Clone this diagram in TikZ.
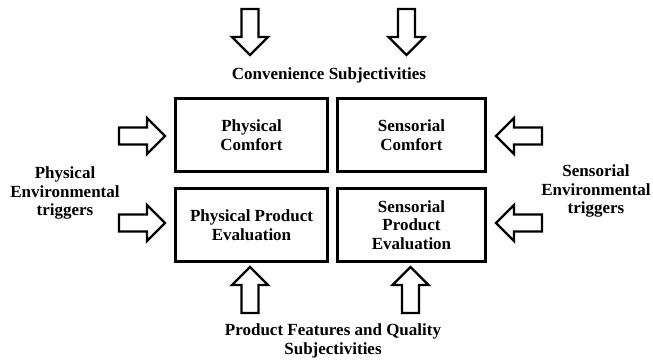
\documentclass[tikz,border=0pt]{standalone}
\usepackage{fontspec}
\setmainfont{Liberation Serif}
\begin{document}
\begin{tikzpicture}[x=1pt,y=-1pt,
  lbl/.style={align=center,font=\bfseries\fontsize{17}{18.5}\selectfont},
  box/.style={lbl,draw,line width=2.8pt,minimum width=152pt,minimum height=73pt,inner sep=0pt},
  fat/.pic={\draw[line width=2.3pt,fill=white,line join=miter](0,-8.5)--(28,-8.5)--(28,-18)--(46,0)--(28,18)--(28,8.5)--(0,8.5)--cycle;}]
\useasboundingbox(0,0)rectangle(653,362);
\node[box](pc)at(251.5,135){Physical\\Comfort};
\node[box,minimum width=148pt](sc)at(411.5,135){Sensorial\\Comfort};
\node[box](ppe)at(251.5,225){Physical Product\\Evaluation};
\node[box,minimum width=148pt](spe)at(411.5,225){Sensorial\\Product\\Evaluation};

\node[lbl](conv)at(329,75){Convenience Subjectivities};
\node[lbl](prod)at(333,341){Product Features and Quality\\Subjectivities};
\node[lbl](phys)at(65,193){Physical\\Environmental\\triggers};
\node[lbl](sens)at(596,191){Sensorial\\Environmental\\triggers};

\pic[rotate=-90]at(250,9){fat};
\pic[rotate=-90]at(406.5,9){fat};
\pic[rotate=90]at(250,313){fat};
\pic[rotate=90]at(410.5,313){fat};
\pic at(119,136){fat};
\pic at(119,223){fat};
\pic[rotate=180]at(542,136){fat};
\pic[rotate=180]at(542,223){fat};
\end{tikzpicture}
\end{document}
